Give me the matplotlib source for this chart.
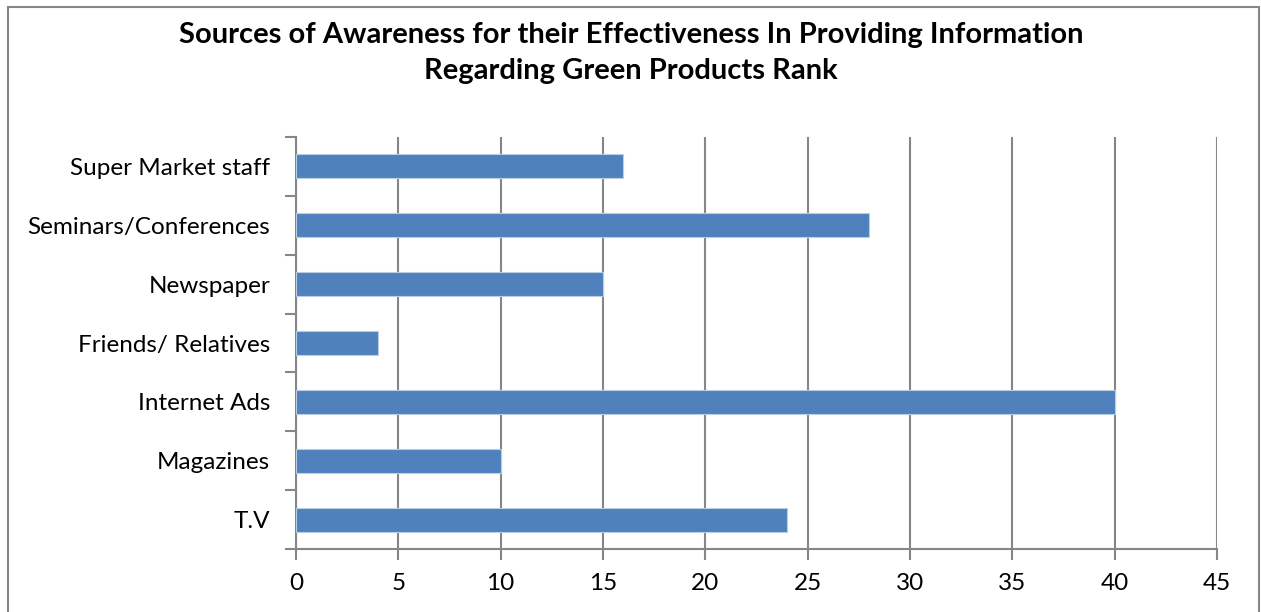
import numpy as np
import matplotlib.pyplot as plt
from matplotlib.patches import Rectangle

# data (bottom to top, as drawn)
sources = ["T.V", "Magazines", "Internet Ads", "Friends/ Relatives",
           "Newspaper", "Seminars/Conferences", "Super Market staff"]
rank = [24, 10, 40, 4, 15, 28, 16]

title = ("Sources of Awareness for their Effectiveness In Providing Information\n"
         "Regarding Green Products Rank")

plt.rcParams['font.family'] = ['Lato', 'DejaVu Sans']

fig = plt.figure(figsize=(12.61, 6.12), dpi=100)
ax = fig.add_axes([296/1261, 1 - 549/612, (1217 - 296)/1261, (549 - 137)/612])

y = np.arange(len(sources))
ax.barh(y, rank, height=0.41, color="#4F81BD", edgecolor="#B9CDE5",
        linewidth=0.8, zorder=3)

ax.set_xlim(0, 45)
ax.set_ylim(-0.5, len(sources) - 0.5)
ax.set_xticks(np.arange(0, 46, 5))
ax.set_yticks(y)
ax.set_yticklabels(sources)
ax.set_yticks(np.arange(-0.5, len(sources), 1), minor=True)

ax.grid(axis="x", color="#868686", linewidth=1.5, zorder=0)
for side in ["top", "right"]:
    ax.spines[side].set_visible(False)
for side in ["left", "bottom"]:
    ax.spines[side].set_color("#868686")
    ax.spines[side].set_linewidth(1.5)

ax.tick_params(axis="y", which="major", length=0, pad=18.5, labelsize=17.5)
ax.tick_params(axis="y", which="minor", length=8, width=1.5, color="#868686")
ax.tick_params(axis="x", length=8, width=1.5, color="#868686", pad=9,
               labelsize=17.5)

fig.text(631/1261, 1 - 53/612, title, ha="center", va="center",
         fontsize=21, fontweight="bold", linespacing=1.45)

# chart border
fig.patches.append(Rectangle((8/1261, -0.05), 1251/1261, 1.05 - 7/612,
                             transform=fig.transFigure, fill=False,
                             edgecolor="#868686", linewidth=1.5))

fig.savefig("out.png", dpi=100)
